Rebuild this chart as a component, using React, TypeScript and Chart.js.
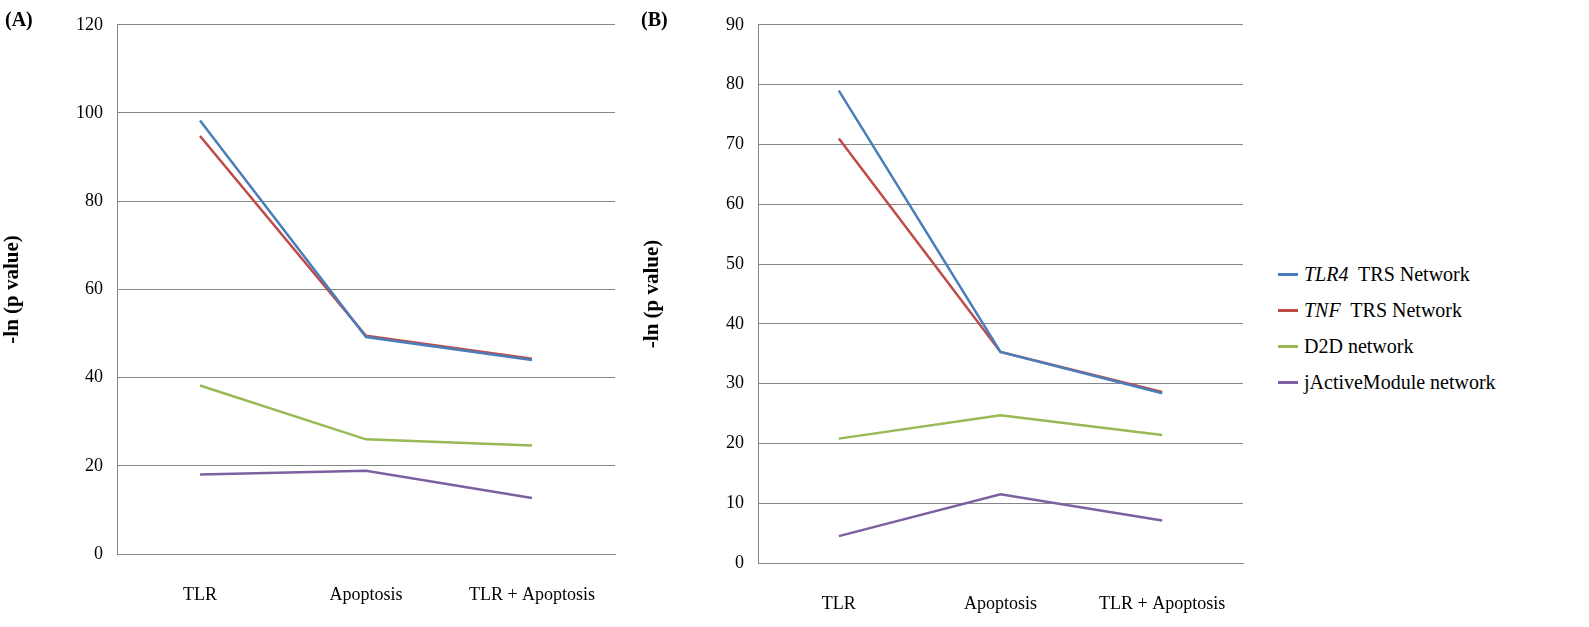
import React, { useEffect, useRef } from "react";
import { Chart, registerables } from "chart.js";
Chart.register(...registerables);

const categories = ["TLR", "Apoptosis", "TLR + Apoptosis"];
const seriesNames = ["TLR4", "TNF", "D2D network", "jActiveModule network"];
const colors = ["#4A7EBB", "#BE4B48", "#98B954", "#7D60A0"];
const aTLR4 = [98.3, 49.2, 44.0];
const aTNF = [94.8, 49.5, 44.3];
const aD2D = [38.2, 26.0, 24.6];
const aJAM = [18.0, 18.9, 12.7];
const bTLR4 = [79.0, 35.3, 28.4];
const bTNF = [71.0, 35.3, 28.6];
const bD2D = [20.8, 24.7, 21.4];
const bJAM = [4.5, 11.5, 7.1];

const FONT = "'Liberation Serif', 'Times New Roman', serif";

function Panel(props: { data: number[][]; max: number; step: number; yW: number; xH: number; right: number; top: number; w: number }) {
  const ref = useRef<HTMLCanvasElement>(null);
  useEffect(() => {
    const c = new Chart(ref.current!, {
      type: "line",
      data: {
        labels: categories,
        datasets: props.data.map((d, i) => ({
          label: seriesNames[i], data: d, borderColor: colors[i], backgroundColor: colors[i],
          borderWidth: 2.5, pointRadius: 0, tension: 0,
        })),
      },
      options: {
        animation: false, responsive: false, maintainAspectRatio: false,
        layout: { padding: { top: props.top, right: props.right, bottom: 0, left: 0 } },
        plugins: { legend: { display: false }, tooltip: { enabled: false } },
        scales: {
          x: {
            offset: true,
            grid: { display: false },
            border: { color: "#868686" },
            ticks: { color: "#000", font: { family: FONT, size: 18 }, padding: 22, maxRotation: 0 },
            afterFit: (s: any) => { s.height = props.xH; s.paddingLeft = 0; s.paddingRight = 0; },
          },
          y: {
            min: 0, max: props.max,
            ticks: { stepSize: props.step, color: "#000", font: { family: FONT, size: 18 }, padding: 14 },
            grid: { color: "#868686", drawTicks: false },
            border: { color: "#868686" },
            title: { display: true, text: "-ln (p value)", color: "#000", padding: { top: 0, bottom: 18 }, font: { family: FONT, size: 21, weight: "bold" } },
            afterFit: (s: any) => { s.width = props.yW; },
          },
        },
      },
    });
    return () => c.destroy();
  }, []);
  return <canvas ref={ref} width={props.w} height={627} style={{ display: "block" }} />;
}

export default function App() {
  const leg = (i: number, content: React.ReactNode) => (
    <div style={{ display: "flex", alignItems: "center", height: 36 }}>
      <span style={{ display: "inline-block", width: 20, height: 3, background: colors[i], marginRight: 6 }} />
      <span>{content}</span>
    </div>
  );
  return (
    <div style={{ position: "absolute", left: 0, top: 0, width: 1589, height: 627, background: "#fff", fontFamily: FONT }}>
      <div style={{ position: "absolute", left: 0, top: 0 }}>
        <Panel data={[aTLR4, aTNF, aD2D, aJAM]} max={120} step={20} yW={117} xH={73} right={15} top={14} w={630} />
      </div>
      <div style={{ position: "absolute", left: 640, top: 0 }}>
        <Panel data={[bTLR4, bTNF, bD2D, bJAM]} max={90} step={10} yW={118} xH={64} right={12} top={16} w={615} />
      </div>
      <div style={{ position: "absolute", left: 5, top: 8, fontSize: 20, fontWeight: "bold" }}>(A)</div>
      <div style={{ position: "absolute", left: 641, top: 8, fontSize: 20, fontWeight: "bold" }}>(B)</div>
      <div style={{ position: "absolute", left: 1278, top: 256, fontSize: 20, color: "#000" }}>
        {leg(0, <><i>TLR4</i>&nbsp; TRS Network</>)}
        {leg(1, <><i>TNF</i>&nbsp; TRS Network</>)}
        {leg(2, "D2D network")}
        {leg(3, "jActiveModule network")}
      </div>
    </div>
  );
}
